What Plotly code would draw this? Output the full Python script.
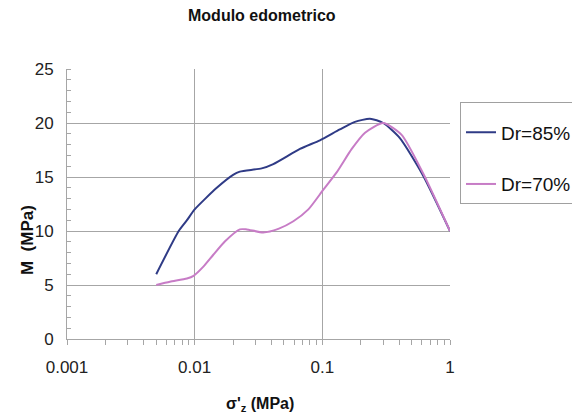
import plotly.graph_objects as go

# Data
x_dr85 = [0.005, 0.0075, 0.0087, 0.01, 0.0149, 0.02, 0.0226, 0.0335, 0.0413, 0.0668, 0.0958, 0.137, 0.18, 0.236, 0.30, 0.405, 0.618, 1.0]
y_dr85 = [6.0, 10.0, 11.0, 12.0, 14.0, 15.2, 15.5, 15.8, 16.2, 17.6, 18.4, 19.4, 20.1, 20.4, 20.0, 18.6, 15.1, 10.0]

x_dr70 = [0.005, 0.0064, 0.0087, 0.0098, 0.0117, 0.014, 0.0173, 0.0226, 0.0255, 0.0344, 0.0452, 0.0593, 0.0777, 0.1015, 0.129, 0.17, 0.216, 0.30, 0.418, 0.618, 1.0]
y_dr70 = [5.0, 5.3, 5.6, 5.85, 6.7, 7.8, 9.05, 10.15, 10.15, 9.87, 10.2, 10.9, 12.0, 13.8, 15.4, 17.6, 19.1, 20.0, 18.9, 15.3, 10.0]

x_ticks = [0.001, 0.01, 0.1, 1]
x_ticklabels = ["0.001", "0.01", "0.1", "1"]
y_ticks = [0, 5, 10, 15, 20, 25]

NAVY = "#2f3b86"
PINK = "#c77cc6"
GRID = "#a6a6a6"
FONT = "Liberation Sans, Arial, sans-serif"

L, R, T, B = 67, 122, 69, 77
W, H = 572, 416
PW, PH = W - L - R, H - T - B


def px(xp):
    return (xp - L) / PW


def py(yp):
    return (H - B - yp) / PH


fig = go.Figure()
fig.add_trace(go.Scatter(x=x_dr85, y=y_dr85, mode="lines", name="Dr=85%",
                         line=dict(color=NAVY, width=2, shape="spline", smoothing=0.6),
                         legendgroup="a"))
fig.add_trace(go.Scatter(x=x_dr70, y=y_dr70, mode="lines", name="Dr=70%",
                         line=dict(color=PINK, width=2, shape="spline", smoothing=0.6),
                         legendgroup="b"))

fig.update_layout(
    width=W, height=H,
    margin=dict(l=L, r=R, t=T, b=B, autoexpand=False),
    paper_bgcolor="white", plot_bgcolor="white",
    font=dict(family=FONT, size=17, color="#222222"),
    showlegend=True,
    legend=dict(x=px(460), y=py(102), xanchor="left", yanchor="top",
                bordercolor="#a0a0a0", borderwidth=1, bgcolor="white",
                font=dict(family=FONT, size=19, color="#111111"),
                title=dict(text=" ", font=dict(size=8)),
                tracegroupgap=24, itemwidth=30),
    annotations=[
        dict(text="<b>Modulo edometrico</b>", x=px(262), y=py(15), xref="paper", yref="paper",
             showarrow=False, xanchor="center", yanchor="middle",
             font=dict(family=FONT, size=16, color="#111111")),
        dict(text="<b>σ'<sub>z</sub> (MPa)</b>", x=px(260), y=py(404), xref="paper", yref="paper",
             showarrow=False, xanchor="center", yanchor="middle",
             font=dict(family=FONT, size=16, color="#111111")),
        dict(text="<b>M  (MPa)</b>", x=px(27), y=py(240), xref="paper", yref="paper",
             showarrow=False, textangle=-90, xanchor="center", yanchor="middle",
             font=dict(family=FONT, size=17, color="#111111")),
    ],
)

fig.update_xaxes(type="log", range=[-3, 0], tickvals=x_ticks, ticktext=x_ticklabels,
                 automargin=False,
                 showgrid=True, gridcolor=GRID, gridwidth=1,
                 showline=True, linecolor=GRID, linewidth=1, mirror=False,
                 ticks="outside", ticklen=5, tickcolor=GRID,
                 ticklabelstandoff=8,
                 minor=dict(ticks="outside", ticklen=5, tickcolor=GRID, showgrid=False, dtick="D1"),
                 zeroline=False)
fig.update_yaxes(range=[0, 25], tickvals=y_ticks,
                 automargin=False,
                 showgrid=True, gridcolor=GRID, gridwidth=1,
                 showline=True, linecolor=GRID, linewidth=1,
                 ticks="", ticklabelstandoff=9,
                 minor=dict(ticks="inside", ticklen=4, tickcolor=GRID, showgrid=False, dtick=1),
                 zeroline=False)

fig.write_html("out.html", config={"displayModeBar": False},
               post_script="document.body.style.margin='0';")
